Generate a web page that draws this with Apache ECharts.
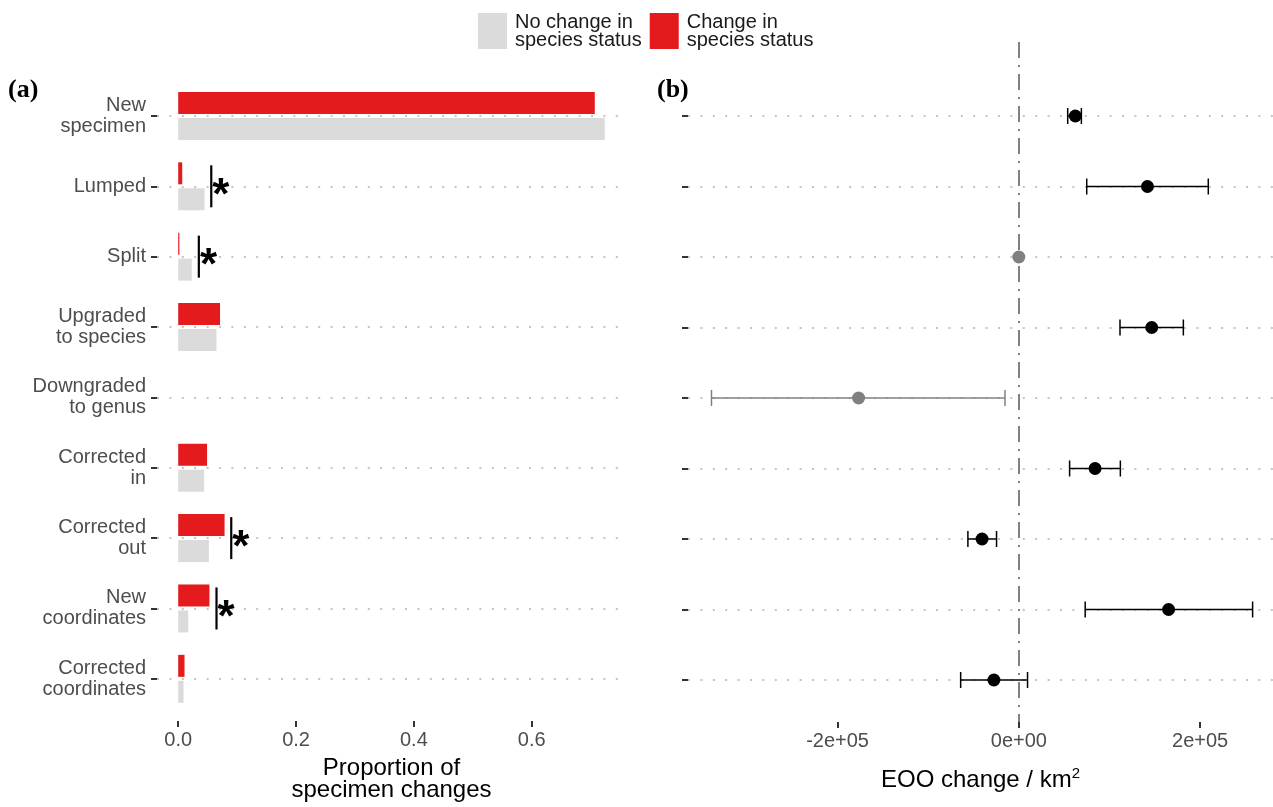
<!DOCTYPE html>
<html><head><meta charset="utf-8">
<script src="https://cdn.jsdelivr.net/npm/echarts@6/dist/echarts.min.js"></script>
<style>html,body{margin:0;padding:0;background:#fff}#c{width:1273px;height:807px}</style>
</head><body><div id="c"></div>
<script>
// ---- data ----
const categories = ['New\nspecimen', 'Lumped', 'Split', 'Upgraded\nto species', 'Downgraded\nto genus',
  'Corrected\nin', 'Corrected\nout', 'New\ncoordinates', 'Corrected\ncoordinates'];
const changeProp   = [0.707, 0.0068, 0.002, 0.071, 0, 0.049, 0.0787, 0.053, 0.0107];
const noChangeProp = [0.724, 0.0447, 0.023, 0.065, 0, 0.044, 0.052, 0.017, 0.009];
const sigLine      = [null, 0.0561, 0.035, null, null, null, 0.090, 0.065, null];
const propTicks = [0, 0.2, 0.4, 0.6];
const propTickLabels = ['0.0', '0.2', '0.4', '0.6'];

const eooMean = [62300, 141900, 0, 146600, -176800, 84100, -40600, 165200, -27500];
const eooLow  = [53900, 74900, null, 111600, -339100, 56000, -56200, 73200, -64200];
const eooHigh = [69000, 209000, null, 181500, -15300, 112000, -24600, 257900, 9600];
const eooSignificant = [true, true, false, true, false, true, true, true, true];
const eooTicks = [-200000, 0, 200000];
const eooTickLabels = ['-2e+05', '0e+00', '2e+05'];

const legendNames = ['No change in\nspecies status', 'Change in\nspecies status'];

// ---- styles ----
const FONT = 'Liberation Sans, Arial, sans-serif';
const RED = '#e41a1c', GREY = '#dbdbdb', PTGREY = '#808080';
const gridDots = {color: '#c4c4c4', width: 2, type: [2, 10.4]};
const catIdx = categories.map((c, i) => i);

const chart = echarts.init(document.getElementById('c'));

const tickStyle = {show: true, length: 6, lineStyle: {color: '#333', width: 2}};

const valAxisLabel = (ticks, labels) => ({
  customValues: ticks, margin: 9, fontFamily: FONT, fontSize: 20, color: '#4d4d4d',
  formatter: v => { const k = ticks.findIndex(t => Math.abs(t - v) < 1e-9); return k >= 0 ? labels[k] : ''; }
});

const option = {
  animation: false,
  backgroundColor: '#fff',
  title: [
    {text: '(a)', left: 3, top: 72, textStyle: {fontFamily: 'Liberation Serif, serif', fontWeight: 'bold', fontSize: 26, color: '#000'}},
    {text: '(b)', left: 652, top: 72, textStyle: {fontFamily: 'Liberation Serif, serif', fontWeight: 'bold', fontSize: 26, color: '#000'}}
  ],
  legend: {
    data: legendNames, left: 478, top: 12, padding: 0, itemWidth: 29, itemHeight: 36, itemGap: 8, icon: 'rect',
    textStyle: {fontFamily: FONT, fontSize: 20, lineHeight: 18, color: '#1a1a1a', padding: [0, 0, 0, 3]},
    selectedMode: false
  },
  grid: [
    {left: 157, right: 647, top: 80.75, bottom: 91.75},
    {left: 688, right: 0, top: 42, bottom: 85}
  ],
  xAxis: [
    {type: 'value', gridIndex: 0, min: -0.036, max: 0.76, offset: 7,
      axisLine: {show: false, onZero: false}, splitLine: {show: false},
      axisTick: Object.assign({customValues: propTicks}, tickStyle),
      axisLabel: valAxisLabel(propTicks, propTickLabels),
      name: 'Proportion of\nspecimen changes', nameLocation: 'middle', nameGap: 36,
      nameTextStyle: {fontFamily: FONT, fontSize: 24, lineHeight: 22, color: '#000'}},
    {type: 'value', gridIndex: 1, min: -365000, max: 280400,
      axisLine: {show: false, onZero: false}, splitLine: {show: false},
      axisTick: Object.assign({customValues: eooTicks}, tickStyle),
      axisLabel: valAxisLabel(eooTicks, eooTickLabels),
      name: 'EOO change / km{sup|2}', nameLocation: 'middle', nameGap: 44,
      nameTextStyle: {fontFamily: FONT, fontSize: 24, color: '#000',
        rich: {sup: {fontFamily: FONT, fontSize: 15, color: '#000', padding: [0, 0, 14, 0]}}}}
  ],
  yAxis: [
    {type: 'category', gridIndex: 0, data: categories, inverse: true,
      axisLine: {show: false, onZero: false},
      axisTick: Object.assign({alignWithLabel: true, interval: 0}, tickStyle),
      axisLabel: {interval: 0, margin: 11, fontFamily: FONT, fontSize: 20, lineHeight: 21, color: '#4d4d4d', align: 'right'},
      splitLine: {show: false}},
    {type: 'value', gridIndex: 1, inverse: true, min: -1.05, max: 8.596,
      axisLine: {show: false, onZero: false},
      axisTick: Object.assign({customValues: catIdx}, tickStyle),
      axisLabel: {show: false}, splitLine: {show: false}}
  ],
  series: [
    {type: 'scatter', xAxisIndex: 0, yAxisIndex: 0, data: [], z: 1, silent: true,
      markLine: {z: 1, silent: true, symbol: ['none', 'none'], label: {show: false}, lineStyle: gridDots,
        data: catIdx.map(i => ({yAxis: i}))}},
    {name: legendNames[1], type: 'bar', xAxisIndex: 0, yAxisIndex: 0, data: changeProp, barWidth: 22, barGap: '18%',
      itemStyle: {color: RED}, z: 3},
    {name: legendNames[0], type: 'bar', xAxisIndex: 0, yAxisIndex: 0, data: noChangeProp, barWidth: 22, barGap: '18%',
      itemStyle: {color: GREY}, z: 3},
    {type: 'scatter', xAxisIndex: 0, yAxisIndex: 0, z: 5,
      data: sigLine.map((v, i) => v == null ? null : [v, i]).filter(d => d),
      symbol: 'rect', symbolSize: [2.2, 42], itemStyle: {color: '#000', opacity: 1},
      label: {show: true, formatter: '*', position: 'right', distance: 0, fontFamily: FONT, fontSize: 44,
        fontWeight: 'bold', color: '#000', offset: [0, 10.5]}},
    {type: 'scatter', xAxisIndex: 1, yAxisIndex: 1, data: [], z: 1, silent: true,
      markLine: {z: 1, silent: true, symbol: ['none', 'none'], label: {show: false}, lineStyle: gridDots,
        data: catIdx.map(i => ({yAxis: i}))}},
    {type: 'scatter', xAxisIndex: 1, yAxisIndex: 1, data: [], z: 2, silent: true,
      markLine: {z: 2, silent: true, symbol: ['none', 'none'], label: {show: false},
        lineStyle: {color: '#808080', width: 2, type: [16, 7, 2, 7]},
        data: [{xAxis: 0}]}},
    {type: 'custom', xAxisIndex: 1, yAxisIndex: 1, z: 4,
      data: eooLow.map((lo, i) => lo == null ? null : [lo, eooHigh[i], i]).filter(d => d),
      encode: {x: [0, 1], y: 2},
      renderItem: (params, api) => {
        const i = api.value(2);
        const a = api.coord([api.value(0), i]);
        const b = api.coord([api.value(1), i]);
        const col = eooSignificant[i] ? '#000' : PTGREY;
        const st = {stroke: col, lineWidth: 1.5};
        const h = 8;
        return {type: 'group', children: [
          {type: 'line', shape: {x1: a[0], y1: a[1], x2: b[0], y2: b[1]}, style: st},
          {type: 'line', shape: {x1: a[0], y1: a[1] - h, x2: a[0], y2: a[1] + h}, style: st},
          {type: 'line', shape: {x1: b[0], y1: b[1] - h, x2: b[0], y2: b[1] + h}, style: st}
        ]};
      }},
    {type: 'scatter', xAxisIndex: 1, yAxisIndex: 1, z: 6, symbol: 'circle', symbolSize: 13,
      data: eooMean.map((m, i) => ({value: [m, i], itemStyle: {color: eooSignificant[i] ? '#000' : PTGREY, opacity: 1}}))}
  ]
};
chart.setOption(option);
</script>
</body></html>
